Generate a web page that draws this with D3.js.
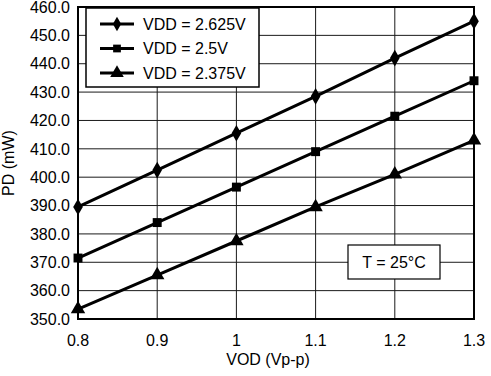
<!DOCTYPE html>
<html>
<head>
<meta charset="utf-8">
<script src="https://cdn.jsdelivr.net/npm/d3@7"></script>
<style>
  html, body { margin: 0; padding: 0; background: #ffffff; }
  svg { display: block; font-family: "Liberation Sans", Arial, sans-serif; }
</style>
</head>
<body>
<div id="chart"></div>
<script>
const vod = [0.8, 0.9, 1.0, 1.1, 1.2, 1.3];
const pdVdd2625 = [389.5, 402.5, 415.5, 428.5, 442.0, 455.0];
const pdVdd25 = [371.5, 384.0, 396.5, 409.0, 421.5, 434.0];
const pdVdd2375 = [353.5, 365.5, 377.5, 389.5, 401.0, 413.0];
const seriesNames = ['VDD = 2.625V', 'VDD = 2.5V', 'VDD = 2.375V'];
const seriesSymbols = [d3.symbolDiamond, d3.symbolSquare, d3.symbolTriangle];
const yTicks = [350, 360, 370, 380, 390, 400, 410, 420, 430, 440, 450, 460];
const xTicks = [0.8, 0.9, 1.0, 1.1, 1.2, 1.3];

const width = 491, height = 376;
const margin = { top: 7, right: 17, bottom: 57, left: 78 };
const plotW = width - margin.left - margin.right;
const plotH = height - margin.top - margin.bottom;
const fs = 16;

const svg = d3.select('#chart').append('svg')
  .attr('width', width).attr('height', height);
const g = svg.append('g').attr('transform', `translate(${margin.left},${margin.top})`);

const x = d3.scaleLinear().domain([0.8, 1.3]).range([0, plotW]);
const y = d3.scaleLinear().domain([350, 460]).range([plotH, 0]);

// grid
g.selectAll('.hgrid').data(yTicks).join('line')
  .attr('x1', 0).attr('x2', plotW)
  .attr('y1', d => y(d)).attr('y2', d => y(d))
  .attr('stroke', '#1a1a1a').attr('stroke-width', 1);
g.selectAll('.vgrid').data(xTicks).join('line')
  .attr('y1', 0).attr('y2', plotH)
  .attr('x1', d => x(d)).attr('x2', d => x(d))
  .attr('stroke', '#1a1a1a').attr('stroke-width', 1);

// tick labels
g.selectAll('.ylab').data(yTicks).join('text')
  .attr('x', -8).attr('y', d => y(d)).attr('dy', '0.36em')
  .attr('text-anchor', 'end').attr('font-size', fs).attr('fill', '#000')
  .text(d => d.toFixed(1));
g.selectAll('.xlab').data(xTicks).join('text')
  .attr('x', d => x(d)).attr('y', plotH + 27)
  .attr('text-anchor', 'middle').attr('font-size', fs).attr('fill', '#000')
  .text(d => d3.format('~g')(d));

// axis titles
svg.append('text')
  .attr('transform', `translate(14,${margin.top + plotH / 2}) rotate(-90)`)
  .attr('text-anchor', 'middle').attr('font-size', fs).text('PD (mW)');
svg.append('text')
  .attr('x', margin.left + plotW / 2 - 8).attr('y', 365)
  .attr('text-anchor', 'middle').attr('font-size', fs).text('VOD (Vp-p)');

// series
const allSeries = [pdVdd2625, pdVdd25, pdVdd2375];
const line = d3.line().x((d, i) => x(vod[i])).y(d => y(d));
allSeries.forEach((vals, si) => {
  g.append('path').datum(vals)
    .attr('fill', 'none').attr('stroke', '#000').attr('stroke-width', 3)
    .attr('d', line);
  g.selectAll(null).data(vals).join('path')
    .attr('transform', (d, i) => `translate(${x(vod[i])},${y(d)})`)
    .attr('d', d3.symbol().type(seriesSymbols[si]).size(si === 2 ? 90 : 80))
    .attr('fill', '#000');
});

// plot border
g.append('rect').attr('x', 0).attr('y', 0).attr('width', plotW).attr('height', plotH)
  .attr('fill', 'none').attr('stroke', '#000').attr('stroke-width', 2);

// legend
const leg = g.append('g').attr('transform', 'translate(8,1)');
leg.append('rect').attr('x', 0).attr('y', 0).attr('width', 173).attr('height', 79)
  .attr('fill', '#fff').attr('stroke', '#000').attr('stroke-width', 1.5);
seriesNames.forEach((name, i) => {
  const cy = 16 + i * 24.5;
  leg.append('line').attr('x1', 14).attr('x2', 48).attr('y1', cy).attr('y2', cy)
    .attr('stroke', '#000').attr('stroke-width', 3);
  leg.append('path').attr('transform', `translate(31,${cy})`)
    .attr('d', d3.symbol().type(seriesSymbols[i]).size(i === 2 ? 80 : 60))
    .attr('fill', '#000');
  leg.append('text').attr('x', 57).attr('y', cy).attr('dy', '0.36em')
    .attr('font-size', fs).text(name);
});

// temperature note
const tb = g.append('g').attr('transform', `translate(${348 - margin.left},${245 - margin.top})`);
tb.append('rect').attr('width', 92).attr('height', 34)
  .attr('fill', '#fff').attr('stroke', '#000').attr('stroke-width', 1.2);
tb.append('text').attr('x', 46).attr('y', 17).attr('dy', '0.36em')
  .attr('text-anchor', 'middle').attr('font-size', fs).text('T = 25°C');
</script>
</body>
</html>
